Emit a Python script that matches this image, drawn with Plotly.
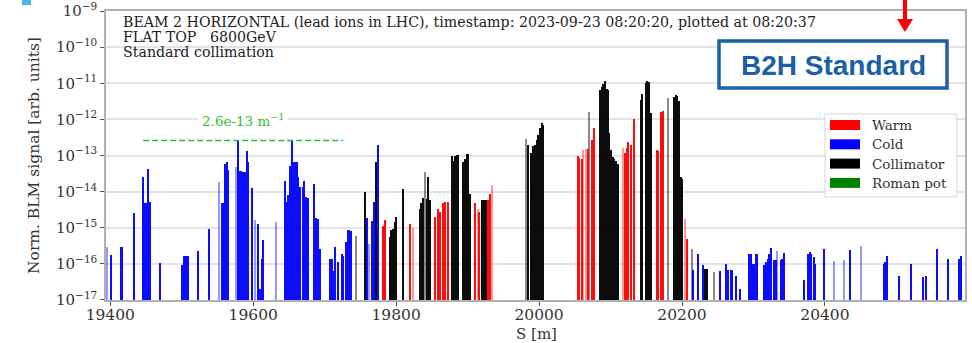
import plotly.graph_objects as go

# ---------------- data (S position in m, normalised BLM signal) ----------------
cold_s = [19401, 19416, 19433, 19446, 19448, 19450, 19453, 19455, 19456, 19470,
          19500, 19503, 19506, 19509, 19523, 19538, 19556, 19558, 19561, 19563,
          19565, 19579, 19581, 19583, 19586, 19589, 19591, 19593, 19598, 19606,
          19610, 19612, 19614, 19645, 19647, 19649, 19652, 19654, 19656, 19659,
          19661, 19663, 19666, 19669, 19671, 19674, 19677, 19685, 19688, 19690,
          19694, 19708, 19710, 19712, 19715, 19718, 19724, 19726, 19730, 19732,
          19734, 19737, 19759, 19766, 19769, 19775,
          20216, 20222, 20230, 20253, 20262, 20265, 20268, 20270, 20276, 20281,
          20294, 20296, 20299, 20301, 20303, 20305, 20315, 20317, 20320, 20322,
          20325, 20329, 20331, 20338, 20340, 20343, 20371, 20377, 20379, 20381,
          20384, 20386, 20399, 20435, 20482, 20484, 20487, 20504, 20520, 20537,
          20541, 20557, 20572, 20587, 20591]
cold_v = [1.8e-16, 3.0e-16, 2.5e-15, 2.5e-14, 4.7e-15, 4.7e-15, 4.3e-14, 5.1e-15, 1.15e-15, 1.07e-16,
          9.5e-17, 1.7e-16, 1.7e-16, 1.7e-16, 2.2e-16, 9.3e-16, 4.7e-15, 4.7e-15, 6.0e-14, 6.6e-14,
          4.0e-14, 2.6e-13, 3.7e-14, 3.7e-14, 3.5e-14, 3.5e-14, 1.35e-13, 6.6e-14, 1.26e-14, 1.3e-15,
          2.0e-17, 1.4e-16, 4.7e-16, 2.0e-14, 5.1e-15, 7.9e-15, 5.1e-14, 2.6e-13, 6.6e-14, 6.6e-14,
          6.6e-14, 2.5e-14, 1.3e-14, 1.3e-14, 2.0e-14, 7.1e-15, 6.5e-15, 1.6e-14, 1.9e-15, 1.8e-15,
          2.6e-16, 1.4e-16, 1.4e-16, 6.5e-17, 2.9e-16, 1.1e-16, 1.9e-16, 1.7e-16, 4.0e-16, 8.7e-16,
          8.7e-16, 8.3e-16, 1.9e-15, 1.55e-15, 5.1e-15, 1.9e-13,
          6.9e-17, 1.9e-16, 9.5e-17, 6.2e-17, 1.0e-16, 6.6e-17, 6.8e-17, 6.8e-17, 4.5e-17, 2.0e-17,
          1.9e-16, 1.9e-16, 1.0e-16, 1.0e-16, 1.9e-16, 1.9e-16, 9.1e-17, 1.1e-16, 1.4e-16, 1.9e-16,
          2.8e-16, 1.26e-16, 1.26e-16, 1.26e-16, 1.4e-16, 2.0e-16, 3.5e-17, 1.9e-16, 2.1e-16, 1.9e-16,
          1.5e-16, 9.8e-17, 2.6e-16, 2.4e-16, 1.0e-16, 1.1e-16, 1.7e-16, 4.7e-17, 1.0e-16, 4.3e-17,
          4.5e-17, 2.5e-16, 1.4e-16, 1.4e-16, 1.7e-16]
cold_faint_s = [19395, 19552, 19576, 19603, 19632, 19762, 20333, 20412, 20427, 20451]
cold_faint_v = [2.9e-16, 1.9e-14, 4.7e-14, 1.6e-15, 1.45e-15, 3.5e-16, 2.3e-16, 1.2e-16, 1.3e-16, 3.1e-16]

warm_s = [19781, 19785, 19820, 19855, 19858, 19862, 19865, 19869, 19872, 19910,
          19916, 19929, 19931, 20054, 20056, 20060, 20068, 20074, 20077, 20120,
          20123, 20125, 20129, 20133, 20165, 20167, 20170, 20173, 20207]
warm_v = [1.15e-15, 1.6e-15, 1.3e-15, 2.0e-15, 3.4e-15, 2.75e-15, 4.7e-15, 5.1e-15, 5.1e-15, 4.7e-15,
          2.75e-15, 5.8e-15, 8.5e-15, 1.0e-13, 8.7e-14, 7.8e-14, 1.5e-13, 2.75e-13, 5.6e-13, 1.2e-13,
          1.65e-13, 2.4e-13, 1.95e-13, 1.0e-12, 1.4e-13, 1.35e-13, 1.6e-12, 1.7e-12, 5.0e-16]
warm_faint_s = [19823, 19914, 19934, 20062, 20065, 20117, 20204]
warm_faint_v = [1.0e-15, 3.4e-15, 1.5e-14, 1.4e-13, 1.5e-13, 1.65e-13, 1.8e-15]

coll_s = [19757, 19772, 19791, 19793, 19795, 19798, 19800, 19809, 19833, 19835,
          19837, 19843, 19845, 19848, 19878, 19880, 19883, 19885, 19887, 19893,
          19896, 19899, 19901, 19903, 19920, 19923, 19926, 19985, 19988, 19991,
          19994, 19997, 19999, 20001, 20004, 20005, 20085, 20088, 20090, 20092,
          20095, 20097, 20098, 20101, 20103, 20105, 20108, 20110, 20142, 20144,
          20149, 20151, 20154, 20156, 20189, 20191, 20193, 20196, 20198, 20200,
          20232, 20235]
coll_v = [1.0e-14, 6.5e-14, 5.5e-16, 8.5e-16, 9.3e-16, 1.45e-15, 2.0e-15, 1.15e-14, 3.4e-15, 4.7e-15,
          6.8e-15, 6.3e-15, 2.6e-14, 5.8e-15, 1.0e-13, 7.2e-14, 1.0e-13, 1.05e-13, 1.05e-13, 6.6e-14,
          7.9e-14, 1.1e-13, 1.1e-13, 8.7e-15, 5.8e-15, 6.0e-15, 5.8e-15, 1.95e-13, 1.15e-13, 1.8e-13,
          1.95e-13, 2.7e-13, 3.6e-13, 5.6e-13, 7.8e-13, 6.9e-13, 6.5e-12, 8.1e-12, 9.5e-12, 1.17e-11,
          6.8e-12, 6.5e-12, 4.1e-13, 1.4e-13, 9.1e-14, 8.1e-14, 7.1e-14, 6.0e-14, 3.5e-12, 5.2e-12,
          1.0e-11, 1.17e-11, 1.1e-11, 1.5e-12, 4.1e-12, 4.8e-12, 4.5e-12, 3.3e-12, 2.6e-14, 2.3e-14,
          7.4e-17, 7.1e-17]
coll_faint_s = [19744, 19840, 19982, 20070, 20180, 20214, 20245]
coll_faint_v = [5.9e-16, 3.5e-14, 2.95e-13, 1.6e-12, 3.8e-12, 2.5e-16, 5.9e-17]

legend_labels = ["Warm", "Cold", "Collimator", "Roman pot"]
legend_colors = ["#ff0000", "#0000ff", "#000000", "#008000"]

threshold_value = 2.6e-13
threshold_s = [19446, 19726]
threshold_label = "2.6e-13 m<sup>−1</sup>"

x_ticks = [19400, 19600, 19800, 20000, 20200, 20400]
x_range = [19394, 20596]
y_tick_exponents = [-17, -16, -15, -14, -13, -12, -11, -10, -9]
y_ticks = [1e-17, 1e-16, 1e-15, 1e-14, 1e-13, 1e-12, 1e-11, 1e-10, 1e-9]
y_range_log = [-17.002, -8.998]

info_lines = ["BEAM 2 HORIZONTAL (lead ions in LHC), timestamp: 2023-09-23 08:20:20, plotted at 08:20:37",
              "FLAT TOP   6800GeV",
              "Standard collimation"]
x_title = "S [m]"
y_title = "Norm. BLM signal [arb. units]"

# ---------------- figure ----------------
W, H = 972, 343
L, R, T, B = 106, 965, 11, 300
SERIF = "DejaVu Serif"


def px(p):
    return (p - L) / (R - L)


def py(p):
    return (B - p) / (B - T)


fig = go.Figure()


def add_bars(s, v, color, width, opacity):
    fig.add_trace(go.Bar(x=s, y=v, width=width, marker=dict(color=color, line=dict(width=0)),
                         opacity=opacity, showlegend=False, hoverinfo="x+y"))


add_bars(cold_faint_s, cold_faint_v, "#0000ff", 1.4, 0.4)
add_bars(warm_faint_s, warm_faint_v, "#ff0000", 1.4, 0.4)
add_bars(coll_faint_s, coll_faint_v, "#000000", 1.4, 0.45)
add_bars(cold_s, cold_v, "#0000ff", 2.8, 0.95)
add_bars(warm_s, warm_v, "#ff0000", 2.8, 0.95)
add_bars(coll_s, coll_v, "#000000", 2.8, 0.95)

fig.add_trace(go.Scatter(x=threshold_s, y=[threshold_value] * 2, mode="lines",
                         line=dict(color="#2bbf2b", width=1.6, dash="6px,3px"),
                         showlegend=False, hoverinfo="skip"))

annotations = []
shapes = []

# info text
for i, line in enumerate(info_lines):
    annotations.append(dict(xref="paper", yref="paper", x=px(121), y=py(22 + 15.2 * i),
                            xanchor="left", yanchor="middle", text=line, showarrow=False,
                            font=dict(family=SERIF, size=14.2, color="#222")))

# axis titles
annotations.append(dict(xref="paper", yref="paper", x=px(536), y=py(334), text=x_title,
                        showarrow=False, xanchor="center", yanchor="middle",
                        font=dict(family=SERIF, size=15, color="#333")))
annotations.append(dict(xref="paper", yref="paper", x=px(34), y=py(156), text=y_title,
                        showarrow=False, xanchor="center", yanchor="middle", textangle=-90,
                        font=dict(family=SERIF, size=15.5, color="#333")))

# threshold label
annotations.append(dict(xref="x", yref="paper", x=19586, y=py(120), text=threshold_label,
                        showarrow=False, bgcolor="white", borderpad=3,
                        font=dict(family=SERIF, size=13.5, color="#2bbf2b")))

# legend (manual, matplotlib style)
shapes.append(dict(type="rect", xref="paper", yref="paper", x0=px(825), x1=px(957),
                   y0=py(197), y1=py(114), fillcolor="rgba(255,255,255,0.9)",
                   line=dict(color="#d6d6d6", width=1)))
for i, (lab, col) in enumerate(zip(legend_labels, legend_colors)):
    cy = 125 + 19.3 * i
    shapes.append(dict(type="rect", xref="paper", yref="paper", x0=px(830), x1=px(860),
                       y0=py(cy + 5), y1=py(cy - 5), fillcolor=col, line=dict(width=0)))
    annotations.append(dict(xref="paper", yref="paper", x=px(870), y=py(cy), xanchor="left",
                            yanchor="middle", text=lab, showarrow=False,
                            font=dict(family=SERIF, size=13.5, color="#333")))

# B2H Standard box
shapes.append(dict(type="rect", xref="paper", yref="paper", x0=px(719), x1=px(947),
                   y0=py(88), y1=py(41), fillcolor="white",
                   line=dict(color="#1b5fa8", width=3.5)))
annotations.append(dict(xref="paper", yref="paper", x=px(833), y=py(65), text="<b>B2H Standard</b>",
                        showarrow=False, xanchor="center", yanchor="middle",
                        font=dict(family="Liberation Sans", size=28, color="#1b5fa8")))

# red arrow
shapes.append(dict(type="line", xref="paper", yref="paper", x0=px(905), x1=px(905),
                   y0=py(-2), y1=py(20), line=dict(color="#ff0000", width=4)))
shapes.append(dict(type="path", xref="paper", yref="paper",
                   path=f"M {px(897)},{py(19)} L {px(913)},{py(19)} L {px(905)},{py(32)} Z",
                   fillcolor="#ff0000", line=dict(width=0)))

# small cyan mark at top-left corner
shapes.append(dict(type="rect", xref="paper", yref="paper", x0=px(22), x1=px(31),
                   y0=py(5), y1=py(-2), fillcolor="#45b6e6", line=dict(width=0)))

fig.update_layout(
    width=W, height=H,
    margin=dict(l=L, r=W - R, t=T, b=H - B, autoexpand=False),
    paper_bgcolor="white", plot_bgcolor="white",
    barmode="overlay", bargap=0,
    showlegend=False,
    annotations=annotations, shapes=shapes,
    font=dict(family=SERIF, color="#333"),
    xaxis=dict(range=x_range, tickvals=x_ticks, ticktext=[str(t) for t in x_ticks],
               automargin=False, ticklabelstandoff=-4,
               showgrid=False, zeroline=False, ticks="outside", ticklen=4, tickwidth=1.2,
               tickcolor="#555", showline=True, linecolor="#b0b0b0", linewidth=1.5, mirror=True,
               tickfont=dict(family=SERIF, size=15.5, color="#333")),
    yaxis=dict(type="log", range=y_range_log, tickvals=y_ticks,
               ticktext=[f"10<sup>−{-e}</sup>" for e in y_tick_exponents],
               automargin=False,
               showgrid=True, gridcolor="#e3e3e3", gridwidth=1.5, zeroline=False,
               ticks="outside", ticklen=4, tickwidth=1.2, tickcolor="#555",
               showline=True, linecolor="#b0b0b0", linewidth=1.5, mirror=True,
               tickfont=dict(family=SERIF, size=15, color="#333")),
)

fig.write_html("out.html", config={"displayModeBar": False},
               post_script="document.body.style.margin='0px';")
